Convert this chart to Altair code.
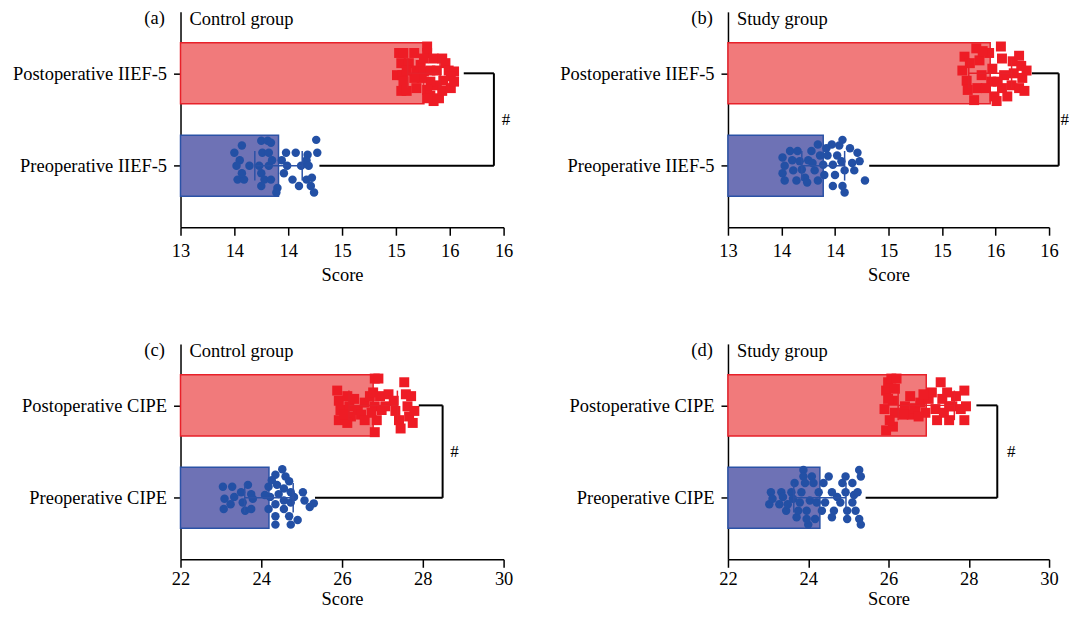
import altair as alt
import pandas as pd

FONT = "Liberation Serif"

# ---------------- data ----------------
panel_tags = ["(a)", "(b)", "(c)", "(d)"]
panel_groups = ["Control group", "Study group", "Control group", "Study group"]
row_measures = ["IIEF-5", "IIEF-5", "CIPE", "CIPE"]
x_domains = [[13, 16], [13, 16], [22, 30], [22, 30]]
x_ticks = [[13, 13.5, 14, 14.5, 15, 15.5, 16], [13, 13.5, 14, 14.5, 15, 15.5, 16],
           [22, 24, 26, 28, 30], [22, 24, 26, 28, 30]]
x_tick_labels = [["13", "14", "14", "15", "15", "16", "16"], ["13", "14", "14", "15", "15", "16", "16"],
                 ["22", "24", "26", "28", "30"], ["22", "24", "26", "28", "30"]]

pre_means = [13.91, 13.89, 24.19, 24.29]
pre_sds = [0.22, 0.20, 0.60, 0.65]
post_means = [15.26, 15.45, 26.77, 26.94]
post_sds = [0.15, 0.20, 0.60, 0.70]

bracket_x = [15.91, 16.09, 28.49, 28.71]
bracket_post_start = [15.63, 15.84, 27.90, 28.19]
bracket_pre_start = [14.29, 14.32, 25.33, 25.43]
sig_marks = ["#", "#", "#", "#"]
sig_dx = [12, 6, 12, 14]

# individual scores (x) and their vertical jitter within the bar (fraction of category step, down = +)
a_pre_x = [13.50, 13.57, 13.55, 13.52, 13.53, 13.59, 13.57, 13.64, 13.73, 13.75, 13.81, 13.84, 13.76,
           13.82, 13.75, 13.78, 13.84, 13.75, 13.82, 13.85, 13.94, 13.90, 13.89, 13.98, 13.99, 14.07,
           14.04, 14.10, 14.12, 14.18, 14.17, 14.19, 14.17, 14.22, 14.26, 14.27, 14.24, 14.21, 13.96]
a_pre_j = [-0.14, -0.22, -0.06, 0.00, 0.15, 0.15, 0.08, 0.00, 0.00, -0.27, -0.27, -0.25, -0.14,
           -0.14, 0.08, 0.15, 0.15, 0.22, 0.00, -0.06, -0.06, 0.24, 0.29, -0.14, 0.00, -0.14,
           0.15, 0.22, 0.00, -0.12, -0.06, 0.00, 0.15, 0.13, -0.28, -0.14, 0.29, 0.22, 0.08]
a_post_x = [15.03, 15.07, 15.17, 15.29, 15.29, 15.35, 15.43, 15.46, 15.05, 15.01, 15.06, 15.12, 15.19,
            15.23, 15.26, 15.32, 15.38, 15.49, 15.54, 15.51, 15.44, 15.38, 15.32, 15.24, 15.17, 15.07,
            15.05, 15.10, 15.19, 15.29, 15.32, 15.35, 15.40, 15.43, 15.51, 15.29, 15.54, 15.26, 15.10]
a_post_j = [-0.22, -0.22, -0.22, -0.29, -0.22, -0.16, -0.16, -0.11, -0.11, 0.02, 0.02, -0.11, -0.03,
            -0.09, -0.02, -0.03, -0.03, -0.03, -0.02, 0.03, 0.08, 0.13, 0.09, 0.05, 0.05, 0.09,
            0.19, 0.19, 0.16, 0.18, 0.24, 0.30, 0.27, 0.19, 0.16, 0.27, 0.09, -0.16, -0.03]
b_pre_x = [13.51, 13.53, 13.51, 13.53, 13.58, 13.60, 13.61, 13.64, 13.65, 13.67, 13.69, 13.72, 13.75,
           13.74, 13.78, 13.79, 13.81, 13.84, 13.84, 13.86, 13.89, 13.90, 13.92, 13.93, 13.97, 13.98,
           14.00, 13.98, 14.02, 14.04, 14.07, 14.06, 14.09, 14.07, 14.09, 14.14, 14.16, 14.18, 14.21,
           14.23, 14.28]
b_pre_j = [-0.09, 0.00, 0.08, 0.16, -0.16, -0.06, 0.05, 0.16, -0.16, -0.05, 0.04, 0.13, -0.06,
           0.18, -0.16, -0.03, 0.05, 0.16, -0.23, -0.11, -0.01, 0.10, -0.19, -0.11, -0.23, -0.01,
           0.10, 0.22, -0.11, -0.22, -0.28, -0.05, 0.05, 0.22, 0.29, -0.19, -0.03, 0.05, -0.14,
           -0.05, 0.16]
b_post_x = [15.21, 15.19, 15.23, 15.24, 15.30, 15.32, 15.35, 15.37, 15.33, 15.44, 15.47, 15.46, 15.49,
            15.51, 15.55, 15.56, 15.58, 15.56, 15.61, 15.66, 15.67, 15.65, 15.72, 15.74, 15.75, 15.72,
            15.77, 15.79, 15.26, 15.41, 15.52, 15.38]
b_post_j = [-0.18, -0.03, 0.08, 0.18, 0.29, -0.27, -0.14, 0.02, 0.16, -0.22, -0.05, 0.09, 0.25,
            0.30, -0.29, -0.16, 0.02, 0.16, 0.25, -0.13, 0.00, 0.13, -0.19, -0.08, 0.05, 0.16,
            0.19, -0.03, -0.11, 0.16, 0.09, -0.24]
c_pre_x = [23.05, 23.09, 23.07, 23.28, 23.33, 23.24, 23.50, 23.54, 23.60, 23.67, 23.75, 23.79, 23.75,
           24.18, 24.22, 24.18, 24.35, 24.39, 24.43, 24.35, 24.35, 24.35, 24.52, 24.60, 24.56, 24.56,
           24.56, 24.69, 24.73, 24.73, 24.69, 24.73, 24.81, 24.90, 25.03, 25.07, 25.20, 25.30, 24.09,
           24.26]
c_pre_j = [-0.12, 0.01, 0.12, -0.12, -0.01, 0.07, -0.06, 0.05, 0.14, -0.14, -0.04, 0.01, 0.12,
           -0.12, -0.01, 0.12, -0.25, -0.14, -0.04, 0.07, 0.20, 0.29, -0.31, -0.23, -0.10, 0.03,
           0.12, -0.18, -0.06, 0.05, 0.20, 0.29, -0.01, 0.24, -0.06, 0.03, 0.10, 0.06, -0.03,
           -0.19]
c_post_x = [25.88, 25.92, 25.96, 25.92, 26.13, 26.18, 26.22, 26.13, 26.30, 26.39, 26.56, 26.69, 26.81,
            26.90, 26.77, 26.81, 26.86, 26.81, 26.73, 26.94, 26.98, 27.15, 27.28, 27.32, 27.41, 27.45,
            27.54, 27.58, 27.62, 27.66, 27.75, 27.79, 27.71, 26.47, 26.05, 27.07, 26.56]
c_post_j = [-0.16, -0.05, 0.05, 0.16, -0.10, 0.01, 0.12, 0.19, -0.07, 0.05, -0.03, -0.10, -0.29,
            -0.29, -0.14, 0.01, 0.16, 0.29, 0.08, -0.10, 0.05, -0.12, -0.05, 0.06, 0.16, 0.25,
            -0.25, -0.12, 0.01, 0.12, 0.19, 0.06, -0.10, 0.10, 0.10, 0.01, 0.16]
d_pre_x = [23.03, 23.07, 23.11, 23.28, 23.33, 23.37, 23.45, 23.49, 23.58, 23.62, 23.66, 23.71, 23.75,
           23.79, 23.83, 23.88, 23.88, 23.92, 23.96, 24.00, 23.96, 24.04, 24.09, 24.13, 24.17, 24.21,
           24.26, 24.34, 24.38, 24.42, 24.51, 24.59, 24.59, 24.64, 24.72, 24.80, 24.85, 24.93, 24.93,
           24.97, 24.97, 25.10, 25.10, 25.14, 25.18, 25.23, 25.27, 25.27, 25.31, 25.31]
d_pre_j = [0.07, -0.06, 0.01, 0.07, -0.06, -0.01, 0.14, 0.07, -0.06, 0.01, -0.16, 0.21, 0.14,
           0.05, -0.06, -0.30, -0.23, -0.16, 0.14, 0.29, 0.23, 0.03, -0.23, -0.16, 0.23, 0.05,
           -0.06, 0.14, -0.16, 0.05, -0.23, -0.06, 0.21, 0.14, -0.01, 0.05, -0.16, -0.23, -0.06,
           0.14, 0.23, -0.16, 0.05, -0.03, 0.14, -0.06, 0.23, -0.30, -0.23, 0.29]
d_post_x = [25.94, 25.90, 25.94, 25.99, 26.07, 26.20, 26.16, 26.11, 26.16, 26.11, 26.03, 25.99, 26.41,
            26.54, 26.58, 26.66, 26.79, 26.92, 27.00, 27.08, 27.17, 27.21, 27.30, 27.34, 27.38, 27.46,
            27.51, 27.59, 27.68, 27.80, 27.89, 27.89, 27.93, 26.37, 26.75, 26.87, 27.51]
d_post_j = [0.27, 0.04, -0.16, -0.25, -0.29, -0.29, -0.18, -0.05, 0.08, 0.23, 0.16, -0.07, 0.01,
            -0.10, 0.10, 0.03, -0.03, 0.08, -0.07, -0.14, 0.04, 0.16, -0.25, -0.07, 0.08, -0.14,
            0.16, 0.01, -0.10, 0.04, -0.16, 0.16, 0.01, 0.10, 0.12, -0.12, 0.01]

pre_x = [a_pre_x, b_pre_x, c_pre_x, d_pre_x]
pre_j = [a_pre_j, b_pre_j, c_pre_j, d_pre_j]
post_x = [a_post_x, b_post_x, c_post_x, d_post_x]
post_j = [a_post_j, b_post_j, c_post_j, d_post_j]

# ---------------- layout / style ----------------
POS_PRE, POS_POST = 0.665, 1.665
Y_DOMAIN = [0, 2.33]
HALF = 0.33
CAP = 0.16
WIDTHS = [324, 322, 324, 322]
H = 216
FS = 18.5
LABEL_PAD = [6, 6, 2, 2]
TITLE_PAD = [6, 6, 2, 2]

FILL = {"Pre": "#6e72b5", "Post": "#f17a7b"}
EDGE = {"Pre": "#2b52a6", "Post": "#e8212a"}
PRE_PT = "#2350a5"
POST_PT = "#ee1c25"


def panel(i):
    d0, d1 = x_domains[i]
    xs = alt.Scale(domain=[d0, d1], nice=False, zero=False)
    ys = alt.Scale(domain=Y_DOMAIN, nice=False, zero=False)
    pre_label = f"Preoperative {row_measures[i]}"
    post_label = f"Postoperative {row_measures[i]}"
    lab_expr = "[" + ",".join(f"'{t}'" for t in x_tick_labels[i]) + "]"
    val_expr = "[" + ",".join(str(v) for v in x_ticks[i]) + "]"
    x_axis = alt.Axis(values=x_ticks[i], labelExpr=f"{lab_expr}[indexof({val_expr}, datum.value)]",
                      title="Score", grid=False, tickSize=8, labelPadding=LABEL_PAD[i],
                      titlePadding=TITLE_PAD[i], labelFlush=False)
    y_axis = alt.Axis(values=[POS_PRE, POS_POST], title=None, grid=False, tickSize=7, labelPadding=7,
                      labelExpr=f"datum.value < 1 ? '{pre_label}' : '{post_label}'",
                      minExtent=171, labelLimit=300)

    def X(f):
        return alt.X(f, type="quantitative", scale=xs, axis=x_axis)

    def Y(f):
        return alt.Y(f, type="quantitative", scale=ys, axis=y_axis)

    bars_df = pd.DataFrame({
        "grp": ["Pre", "Post"],
        "x0": [d0, d0],
        "x1": [pre_means[i], post_means[i]],
        "y0": [POS_PRE - HALF, POS_POST - HALF],
        "y1": [POS_PRE + HALF, POS_POST + HALF],
    })
    col_scale_fill = alt.Scale(domain=["Pre", "Post"], range=[FILL["Pre"], FILL["Post"]])
    col_scale_edge = alt.Scale(domain=["Pre", "Post"], range=[EDGE["Pre"], EDGE["Post"]])
    bars = alt.Chart(bars_df).mark_rect(strokeWidth=1.5).encode(
        x=X("x0"), x2="x1", y=Y("y0"), y2="y1",
        fill=alt.Fill("grp:N", scale=col_scale_fill, legend=None),
        stroke=alt.Stroke("grp:N", scale=col_scale_edge, legend=None),
    )

    # error bars (mean +/- SD) with caps
    err_rows = []
    for g, m, s, yc in [("Pre", pre_means[i], pre_sds[i], POS_PRE), ("Post", post_means[i], post_sds[i], POS_POST)]:
        err_rows.append({"grp": g, "xa": m - s, "xb": m + s, "ya": yc, "yb": yc})
        err_rows.append({"grp": g, "xa": m - s, "xb": m - s, "ya": yc - CAP, "yb": yc + CAP})
        err_rows.append({"grp": g, "xa": m + s, "xb": m + s, "ya": yc - CAP, "yb": yc + CAP})
    err = alt.Chart(pd.DataFrame(err_rows)).mark_rule(strokeWidth=1.5).encode(
        x=X("xa"), x2="xb", y=Y("ya"), y2="yb",
        color=alt.Color("grp:N", scale=col_scale_edge, legend=None),
    )

    pre_df = pd.DataFrame({"x": pre_x[i], "y": [POS_PRE - j for j in pre_j[i]]})
    post_df = pd.DataFrame({"x": post_x[i], "y": [POS_POST - j for j in post_j[i]]})
    pre_pts = alt.Chart(pre_df).mark_point(shape="circle", filled=True, size=72, opacity=1,
                                           color=PRE_PT).encode(x=X("x"), y=Y("y"))
    post_pts = alt.Chart(post_df).mark_point(shape="square", filled=True, size=100, opacity=1,
                                             color=POST_PT).encode(x=X("x"), y=Y("y"))

    br_df = pd.DataFrame({
        "xa": [bracket_pre_start[i], bracket_post_start[i], bracket_x[i]],
        "xb": [bracket_x[i], bracket_x[i], bracket_x[i]],
        "ya": [POS_PRE, POS_POST, POS_PRE],
        "yb": [POS_PRE, POS_POST, POS_POST],
    })
    bracket = alt.Chart(br_df).mark_rule(strokeWidth=2, color="black").encode(
        x=X("xa"), x2="xb", y=Y("ya"), y2="yb")

    sig_df = pd.DataFrame({"x": [bracket_x[i]], "y": [(POS_PRE + POS_POST) / 2], "t": [sig_marks[i]]})
    sig = alt.Chart(sig_df).mark_text(font=FONT, fontSize=17, dx=sig_dx[i], align="center",
                                      baseline="middle", color="black").encode(
        x=X("x"), y=Y("y"), text="t:N")

    lab_df = pd.DataFrame({"tag": [panel_tags[i]], "grp": [panel_groups[i]]})
    tag = alt.Chart(lab_df).mark_text(font=FONT, fontSize=FS, align="center", baseline="middle",
                                      color="black").encode(
        x=alt.value(-26), y=alt.value(6), text="tag:N")
    grp = alt.Chart(lab_df).mark_text(font=FONT, fontSize=FS, align="left", baseline="middle",
                                      color="black").encode(
        x=alt.value(9), y=alt.value(7), text="grp:N")

    return alt.layer(bars, pre_pts, post_pts, err, bracket, sig, tag, grp).properties(
        width=WIDTHS[i], height=H)


row1 = alt.hconcat(panel(0), panel(1), spacing=44)
row2 = alt.hconcat(panel(2), panel(3), spacing=44)
chart = alt.vconcat(row1, row2, spacing=57).properties(
    padding={"left": 2, "top": 0, "right": 0, "bottom": 0}
).configure_view(stroke=None).configure_axis(
    labelFont=FONT, titleFont=FONT, labelFontSize=FS, titleFontSize=FS, titleFontWeight="normal",
    labelColor="black", titleColor="black", domainColor="black", tickColor="black",
    domainWidth=1.5, tickWidth=1.5,
)

chart.save("out.html", embed_options={"renderer": "svg", "actions": False})
